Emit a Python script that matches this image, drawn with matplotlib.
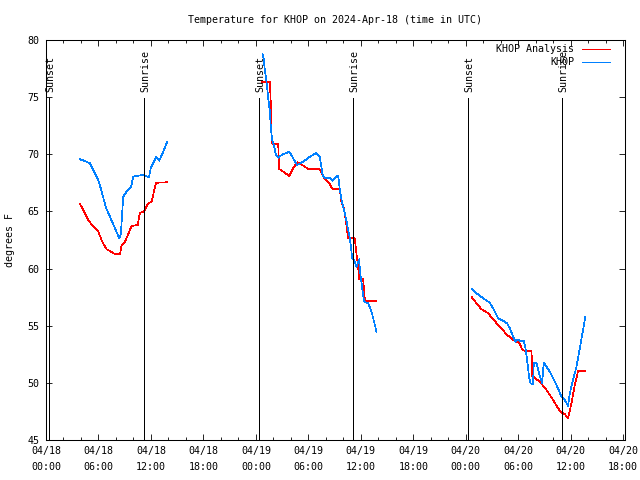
import matplotlib
matplotlib.use("Agg")
import matplotlib.pyplot as plt
from matplotlib.ticker import MultipleLocator
from matplotlib.lines import Line2D

# hours since 2024-04-18 00:00 UTC
obs_h = [3.89, 4.46, 5.03, 5.41, 5.98, 6.37, 6.82, 7.31, 7.89, 8.38, 8.57, 8.83, 9.22, 9.71, 9.98,
         10.55, 11.12, 11.77, 11.97, 12.57, 12.95, 13.41, 13.86, None,
         24.77, 24.91, 25.03, 25.14, 25.29, 25.41, 25.60, 25.71, 25.86, 26.06, 26.29, 26.55, 26.94,
         27.81, 28.26, 28.72, 29.41, 30.17, 30.86, 31.31, 31.62, 31.89, 32.46, 32.77, 33.14, 33.41,
         33.60, 33.79, 33.98, 34.17, 34.37, 34.55, 34.74, 34.86, 35.01, 35.23, 35.51, 35.81, 35.89,
         36.08, 36.26, 36.38, 36.83, 37.22, 37.79, None,
         48.69, 49.22, 49.98, 50.74, 51.12, 51.69, 52.26, 52.72, 53.03, 53.41, 53.71, 53.98, 54.17,
         54.63, 54.86, 55.05, 55.23, 55.39, 55.69, 55.77, 56.08, 56.38, 56.72, 56.91, 57.60, 58.37,
         58.94, 59.31, 59.69, 59.89, 60.26, 60.65, 61.03, 61.66]
obs_t = [69.56, 69.41, 69.21, 68.63, 67.75, 66.73, 65.41, 64.54, 63.52, 62.65, 63.09, 66.29, 66.73,
         67.11, 68.04, 68.13, 68.19, 67.99, 68.77, 69.74, 69.44, 70.23, 71.10, None,
         78.75, 78.25, 77.23, 76.79, 75.77, 74.90, 73.73, 72.27, 71.25, 70.81, 69.94, 69.70, 69.94,
         70.23, 69.65, 69.06, 69.35, 69.79, 70.09, 69.79, 68.19, 67.95, 67.90, 67.69, 68.04, 68.10,
         66.88, 66.00, 65.41, 64.84, 64.10, 63.38, 62.65, 61.91, 60.90, 60.75, 60.16, 60.81, 59.88,
         58.71, 57.69, 57.10, 56.96, 56.23, 54.48, None,
         58.19, 57.84, 57.40, 57.01, 56.52, 55.65, 55.44, 55.21, 54.77, 54.04, 53.60, 53.81, 53.69,
         53.69, 52.88, 51.71, 50.54, 49.96, 49.90, 51.76, 51.76, 50.84, 49.96, 51.76, 50.98, 49.81,
         48.79, 48.50, 47.98, 49.09, 50.25, 51.41, 53.02, 55.74]

ana_h = [3.89, 4.26, 4.83, 5.41, 5.98, 6.43, 6.94, 7.89, 8.46, 8.65, 9.03, 9.79, 10.48, 10.74, 11.20,
         11.69, 12.08, 12.57, 13.86, None,
         24.65, 25.60, 25.68, 25.79, 25.91, 26.55, 26.66, 27.12, 27.81, 28.26, 28.72, 29.41, 29.98,
         31.31, 31.51, 31.77, 32.46, 32.77, 33.60, 33.79, 33.98, 34.17, 34.37, 34.55, 35.31, 35.51,
         35.69, 35.81, 36.26, 36.46, 37.79, None,
         48.69, 49.22, 49.79, 50.55, 51.12, 51.89, 52.65, 53.41, 54.09, 54.48, 54.94, 55.51, 55.60,
         56.08, 56.46, 57.22, 57.98, 58.55, 58.94, 59.31, 59.69, 60.08, 60.46, 60.83, 61.66]
ana_t = [65.65, 65.13, 64.25, 63.66, 63.23, 62.35, 61.69, 61.27, 61.27, 62.06, 62.35, 63.73, 63.81,
         64.89, 64.98, 65.71, 65.85, 67.51, 67.55, None,
         76.30, 76.30, 74.90, 71.10, 70.87, 70.87, 68.71, 68.48, 68.10, 68.77, 69.30, 69.00, 68.71,
         68.69, 68.34, 67.95, 67.37, 66.94, 66.94, 65.71, 65.56, 64.84, 63.66, 62.65, 62.65, 61.19,
         60.16, 59.06, 59.06, 57.19, 57.19, None,
         57.49, 56.96, 56.44, 56.09, 55.56, 54.91, 54.25, 53.75, 53.51, 52.88, 52.73, 52.82, 50.60,
         50.31, 50.10, 49.38, 48.50, 47.77, 47.39, 47.28, 46.90, 48.21, 49.81, 51.01, 51.01]

sunset_h = [0.34, 24.34, 48.23]
sunrise_h = [11.2, 35.09, 58.97]

xtick_pos = [0, 6, 12, 18, 24, 30, 36, 42, 48, 54, 60, 66]
xtick_labels = ["04/18\n00:00", "04/18\n06:00", "04/18\n12:00", "04/18\n18:00",
                "04/19\n00:00", "04/19\n06:00", "04/19\n12:00", "04/19\n18:00",
                "04/20\n00:00", "04/20\n06:00", "04/20\n12:00", "04/20\n18:00"]

def to_nan(a):
    return [float('nan') if v is None else v for v in a]

FONT = "DejaVu Sans Mono"
FS = 7.2
LW = 0.5
plt.rcParams['font.family'] = FONT
plt.rcParams['font.size'] = FS

fig = plt.figure(figsize=(6.4, 4.8), dpi=100)
ax = fig.add_axes([46/640, 40/480, 579/640, 400/480])
ax.set_xlim(0, 66.2)
ax.set_ylim(45, 80)

ax.plot(to_nan(ana_h), to_nan(ana_t), color='#ff0000', lw=LW, antialiased=False)
ax.plot(to_nan(obs_h), to_nan(obs_t), color='#0080ff', lw=LW, antialiased=False)

label_y = 80 - 52/ (400/35)
line_top = 80 - 58 / (400/35)
for h in sunset_h:
    ax.plot([h, h], [45, line_top], color='black', lw=LW, antialiased=False)
    ax.text(h + 0.15, label_y, "Sunset", rotation=90, ha='center', va='bottom', fontsize=FS)
for h in sunrise_h:
    ax.plot([h, h], [45, line_top], color='black', lw=LW, antialiased=False)
    ax.text(h + 0.15, label_y, "Sunrise", rotation=90, ha='center', va='bottom', fontsize=FS)

ax.set_xticks(xtick_pos)
ax.set_xticklabels(xtick_labels, linespacing=1.75)
ax.xaxis.set_minor_locator(MultipleLocator(2))
ax.set_yticks(range(45, 81, 5))
ax.tick_params(which='both', direction='in', top=True, right=True, width=0.6, color='black')
ax.tick_params(which='major', length=4.5, pad=4.5)
ax.tick_params(which='minor', length=2.5)
for s in ax.spines.values():
    s.set_linewidth(0.75)

ax.set_ylabel("degrees F")
ax.yaxis.set_label_coords(-0.0535, 0.5)
ax.set_title("Temperature for KHOP on 2024-Apr-18 (time in UTC)", pad=12, fontsize=FS)

# key
ax.text(0.912, 0.9775, "KHOP Analysis", transform=ax.transAxes, ha='right', va='center')
ax.text(0.912, 0.944, "KHOP", transform=ax.transAxes, ha='right', va='center')
ax.add_line(Line2D([0.926, 0.974], [0.9775, 0.9775], transform=ax.transAxes, color='#ff0000', lw=LW, antialiased=False))
ax.add_line(Line2D([0.926, 0.974], [0.944, 0.944], transform=ax.transAxes, color='#0080ff', lw=LW, antialiased=False))

fig.savefig("out.png", dpi=100)
